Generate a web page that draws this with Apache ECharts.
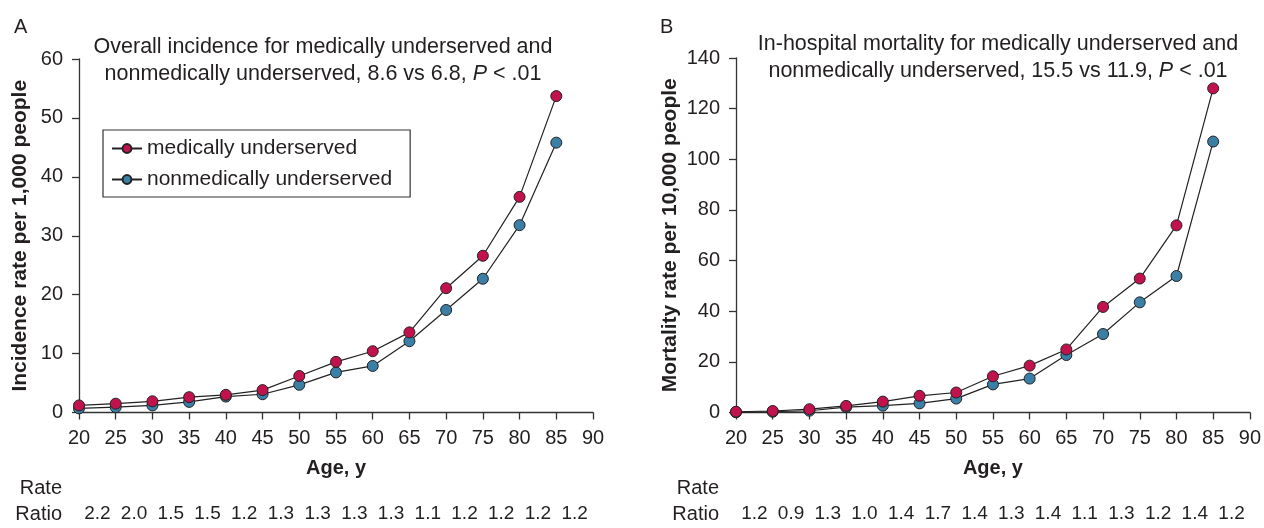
<!DOCTYPE html>
<html>
<head>
<meta charset="utf-8">
<script src="https://cdn.jsdelivr.net/npm/echarts@6/dist/echarts.min.js"></script>
<style>
html,body{margin:0;padding:0;background:#fff;}
#chart{width:1264px;height:528px;}
</style>
</head>
<body>
<div id="chart"></div>
<script>
const ages = [20, 25, 30, 35, 40, 45, 50, 55, 60, 65, 70, 75, 80, 85];
const incidenceMU  = [1.2, 1.5, 1.9, 2.6, 3.0, 3.8, 6.2, 8.6, 10.4, 13.6, 21.1, 26.6, 36.6, 53.7];
const incidenceNMU = [0.7, 0.9, 1.2, 1.8, 2.7, 3.1, 4.7, 6.8, 7.9, 12.1, 17.4, 22.7, 31.8, 45.8];
const mortalityMU  = [0.3, 0.6, 1.3, 2.6, 4.3, 6.6, 7.9, 14.3, 18.5, 24.9, 41.7, 52.9, 73.9, 128];
const mortalityNMU = [0.1, 0.3, 0.7, 2.1, 2.7, 3.6, 5.5, 11.1, 13.4, 22.7, 31.0, 43.5, 53.9, 107];
const ratioA = ['2.2','2.0','1.5','1.5','1.2','1.3','1.3','1.3','1.3','1.1','1.2','1.2','1.2','1.2'];
const ratioB = ['1.2','0.9','1.3','1.0','1.4','1.7','1.4','1.3','1.4','1.1','1.3','1.2','1.4','1.2'];
const xTicks = {min: 20, max: 90, interval: 5};
const yTicksA = {min: 0, max: 60, interval: 10};
const yTicksB = {min: 0, max: 140, interval: 20};
const nameMU = 'medically underserved';
const nameNMU = 'nonmedically underserved';

const FONT = '"Liberation Sans", Arial, Helvetica, sans-serif';
const TXT = '#231f20';
const RED = '#c2124e';
const BLUE = '#3b7fa7';

const pair = (xs, ys) => xs.map((x, i) => [x, ys[i]]);

function valueX(gi) {
  return {
    type: 'value', gridIndex: gi, min: xTicks.min, max: xTicks.max, interval: xTicks.interval,
    name: 'Age, y', nameLocation: 'middle', nameGap: 46,
    nameTextStyle: {fontFamily: FONT, fontSize: 20, fontWeight: 'bold', color: TXT},
    axisLine: {lineStyle: {color: '#333', width: 1.3}},
    axisTick: {length: 7, lineStyle: {color: '#333', width: 1.3}},
    axisLabel: {fontFamily: FONT, fontSize: 20, color: TXT, margin: 16},
    splitLine: {show: false}
  };
}
function ratioX(gi, data) {
  return {
    type: 'category', gridIndex: gi, data: data, position: 'bottom', offset: 89,
    boundaryGap: true,
    axisLine: {show: false}, axisTick: {show: false},
    axisLabel: {fontFamily: FONT, fontSize: 19, color: TXT, margin: 3, interval: 0},
    name: 'Rate\nRatio', nameLocation: 'start', nameGap: 17,
    nameTextStyle: {fontFamily: FONT, fontSize: 20, color: TXT, align: 'right', verticalAlign: 'middle', lineHeight: 26.5}
  };
}
function valueY(gi, t, name, gap) {
  return {
    type: 'value', gridIndex: gi, min: t.min, max: t.max, interval: t.interval,
    name: name, nameLocation: 'middle', nameGap: gap,
    nameTextStyle: {fontFamily: FONT, fontSize: 21, fontWeight: 'bold', color: TXT},
    axisLine: {show: true, lineStyle: {color: '#333', width: 1.3}},
    axisTick: {show: true, length: 7, lineStyle: {color: '#333', width: 1.3}},
    axisLabel: {fontFamily: FONT, fontSize: 20, color: TXT, margin: 16},
    splitLine: {show: false}
  };
}
function lineSeries(name, gi, ys, color) {
  return {
    name: name, type: 'line', xAxisIndex: gi * 2, yAxisIndex: gi,
    data: pair(ages, ys), symbol: 'circle', symbolSize: 11, showSymbol: true,
    lineStyle: {color: '#222', width: 1.2},
    itemStyle: {color: color, borderColor: '#222', borderWidth: 1},
    emphasis: {disabled: true}, animation: false
  };
}

const titleStyle = {fontFamily: FONT, fontSize: 21.5, fontWeight: 'normal', color: TXT, lineHeight: 27,
  rich: {i: {fontFamily: FONT, fontSize: 21.5, fontStyle: 'italic', color: TXT, lineHeight: 27}}};

const option = {
  backgroundColor: '#fff',
  animation: false,
  title: [
    {text: 'A', left: 9, top: 12, textStyle: {fontFamily: FONT, fontSize: 20, fontWeight: 'normal', color: TXT}},
    {text: 'B', left: 655, top: 12, textStyle: {fontFamily: FONT, fontSize: 20, fontWeight: 'normal', color: TXT}},
    {text: 'Overall incidence for medically underserved and\nnonmedically underserved, 8.6 vs 6.8, {i|P} < .01',
     left: 318, top: 29, textAlign: 'center', textStyle: titleStyle},
    {text: 'In-hospital mortality for medically underserved and\nnonmedically underserved, 15.5 vs 11.9, {i|P} < .01',
     left: 993, top: 26, textAlign: 'center', textStyle: titleStyle}
  ],
  legend: {
    data: [nameMU, nameNMU], orient: 'vertical', left: 103, top: 130,
    padding: [8, 18, 7, 8], itemGap: 10, itemWidth: 30, itemHeight: 11,
    borderColor: '#333', borderWidth: 1.2,
    textStyle: {fontFamily: FONT, fontSize: 21, color: TXT}
  },
  grid: [
    {left: 79, right: 671, top: 59, bottom: 111},
    {left: 736, right: 14, top: 58, bottom: 111}
  ],
  xAxis: [valueX(0), ratioX(0, ratioA), valueX(1), ratioX(1, ratioB)],
  yAxis: [valueY(0, yTicksA, 'Incidence rate per 1,000 people', 48),
          valueY(1, yTicksB, 'Mortality rate per 10,000 people', 55)],
  series: [
    lineSeries(nameNMU, 0, incidenceNMU, BLUE),
    lineSeries(nameMU, 0, incidenceMU, RED),
    lineSeries(nameNMU, 1, mortalityNMU, BLUE),
    lineSeries(nameMU, 1, mortalityMU, RED)
  ]
};
const chart = echarts.init(document.getElementById('chart'), null, {renderer: 'canvas'});
chart.setOption(option);
</script>
</body>
</html>
